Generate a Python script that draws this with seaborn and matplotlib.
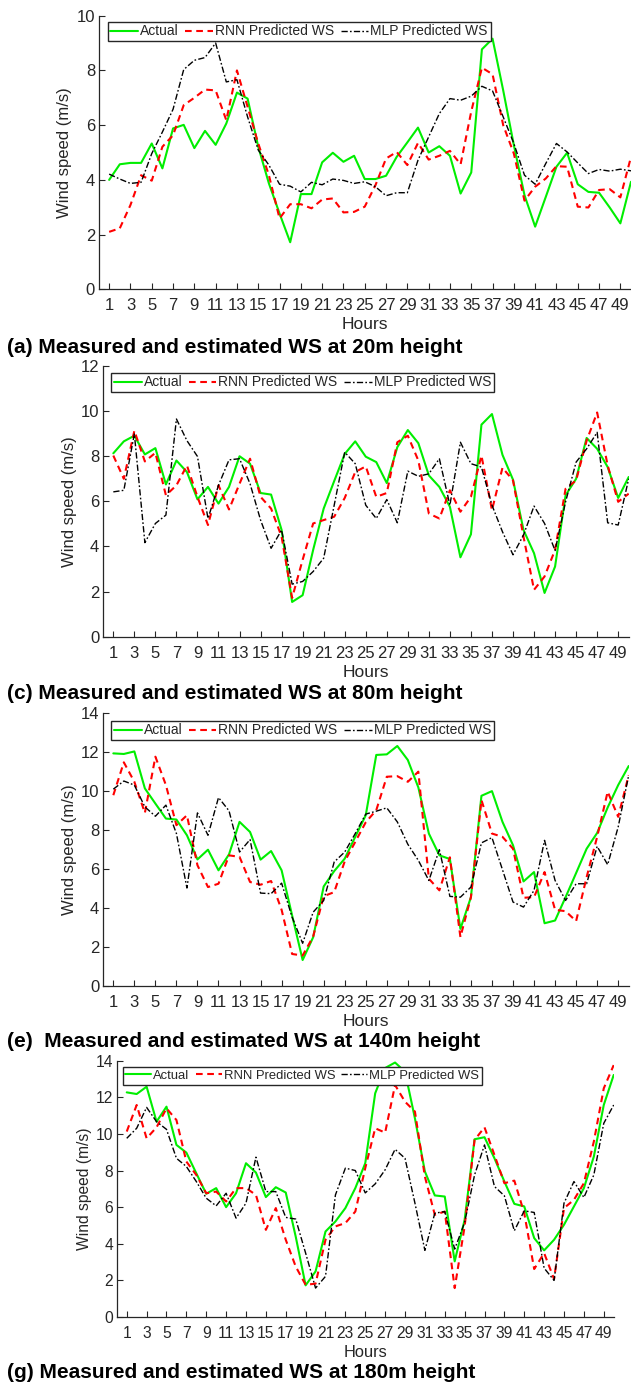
import matplotlib
matplotlib.use("Agg")
import matplotlib.pyplot as plt
import seaborn as sns

# ------------------------------------------
# Data (wind speed, m/s)
# ------------------------------------------
hours = list(range(1, 51))

actual_20 = [4.0, 4.57, 4.62, 4.62, 5.33, 4.42, 5.88, 6.01, 5.16, 5.79,
             5.28, 6.06, 7.19, 6.97, 5.21, 3.87, 2.77, 1.72, 3.48, 3.48,
             4.64, 4.99, 4.66, 4.88, 4.03, 4.03, 4.15, 4.84, 5.37, 5.91,
             5.0, 5.23, 4.88, 3.50, 4.27, 8.77, 9.16, 7.27, 5.27, 3.44,
             2.29, 3.38, 4.48, 4.99, 3.84, 3.56, 3.53, 2.99, 2.41, 3.93]
rnn_20 = [2.10, 2.23, 3.08, 4.17, 3.97, 5.21, 5.63, 6.73, 7.0, 7.3,
          7.27, 6.18, 8.0, 6.67, 5.33, 4.17, 2.59, 3.11, 3.11, 2.96,
          3.28, 3.32, 2.81, 2.83, 3.02, 3.80, 4.78, 5.02, 4.54, 5.35,
          4.74, 4.88, 5.06, 4.57, 6.5, 8.1, 7.86, 6.0, 4.96, 3.24,
          3.75, 4.05, 4.5, 4.48, 3.02, 2.99, 3.63, 3.66, 3.36, 4.84]
mlp_20 = [4.21, 4.03, 3.87, 3.91, 4.96, 5.75, 6.58, 8.03, 8.37, 8.47,
          9.0, 7.58, 7.66, 6.30, 5.09, 4.54, 3.84, 3.77, 3.56, 3.91,
          3.82, 4.03, 3.98, 3.87, 3.93, 3.75, 3.42, 3.53, 3.53, 4.72,
          5.57, 6.42, 6.97, 6.91, 7.06, 7.42, 7.25, 6.30, 5.33, 4.17,
          3.84, 4.6, 5.33, 5.02, 4.62, 4.23, 4.38, 4.32, 4.39, 4.33]

actual_80 = [8.13, 8.66, 8.91, 8.08, 8.36, 6.75, 7.81, 7.3, 6.09, 6.64,
             5.9, 6.64, 8.0, 7.67, 6.37, 6.30, 4.73, 1.54, 1.84, 3.85,
             5.68, 6.9, 8.1, 8.66, 7.98, 7.74, 6.81, 8.4, 9.16, 8.58,
             7.15, 6.64, 5.76, 3.52, 4.54, 9.4, 9.87, 8.06, 6.96, 4.73,
             3.7, 1.94, 3.11, 6.27, 7.0, 8.81, 8.33, 7.52, 6.15, 7.08]
rnn_80 = [8.03, 7.0, 9.13, 7.77, 8.15, 6.27, 6.71, 7.59, 6.2, 4.95,
          6.71, 5.64, 6.78, 7.89, 6.2, 5.68, 4.43, 1.72, 3.41, 5.02,
          5.17, 5.32, 6.15, 7.3, 7.55, 6.2, 6.37, 8.62, 8.91, 7.81,
          5.46, 5.24, 6.49, 5.54, 6.2, 8.03, 5.61, 7.49, 6.93, 4.43,
          2.08, 2.67, 3.85, 6.56, 6.93, 8.69, 9.94, 7.59, 5.98, 6.34]
mlp_80 = [6.42, 6.49, 8.99, 4.17, 5.02, 5.39, 9.65, 8.69, 7.99, 5.24,
          6.71, 7.84, 7.89, 6.78, 5.17, 3.92, 4.73, 2.33, 2.45, 2.89,
          3.48, 5.83, 8.18, 7.67, 5.83, 5.24, 6.08, 5.05, 7.34, 7.11,
          7.22, 7.89, 5.83, 8.62, 7.67, 7.52, 5.83, 4.65, 3.63, 4.51,
          5.79, 5.02, 3.82, 5.98, 7.74, 8.33, 9.06, 5.05, 4.95, 7.0]

actual_140 = [11.94, 11.91, 12.04, 10.14, 9.36, 8.59, 8.54, 7.73, 6.49, 6.99,
              5.93, 6.75, 8.42, 7.90, 6.48, 6.92, 5.93, 3.61, 1.32, 2.49,
              5.10, 5.89, 6.53, 7.65, 8.76, 11.86, 11.89, 12.32, 11.6, 10.19,
              7.82, 6.70, 6.51, 2.92, 4.55, 9.76, 10.0, 8.42, 7.22, 5.36,
              5.84, 3.21, 3.35, 4.55, 5.79, 7.04, 7.85, 9.16, 10.31, 11.29]
rnn_140 = [9.79, 11.48, 10.48, 8.88, 11.77, 10.31, 8.25, 8.76, 6.19, 5.07,
           5.24, 6.70, 6.62, 5.33, 5.19, 5.38, 3.90, 1.63, 1.55, 2.53,
           4.60, 4.81, 6.39, 7.39, 8.4, 9.02, 10.74, 10.77, 10.48, 11.0,
           5.5, 4.9, 6.6, 2.5, 4.55, 9.54, 7.82, 7.65, 7.04, 4.52,
           4.55, 5.84, 3.90, 3.83, 3.32, 5.58, 7.65, 9.97, 8.68, 10.82]
mlp_140 = [10.1, 10.52, 10.31, 9.19, 8.71, 9.28, 7.82, 5.02, 8.88, 7.73,
           9.67, 8.99, 6.87, 7.51, 4.76, 4.73, 5.27, 3.52, 2.18, 3.78,
           4.38, 6.36, 6.87, 7.82, 8.82, 8.97, 9.14, 8.42, 7.27, 6.44,
           5.41, 6.99, 4.59, 4.55, 5.07, 7.34, 7.61, 5.96, 4.30, 4.04,
           4.90, 7.47, 5.41, 4.38, 5.24, 5.24, 7.16, 6.22, 8.16, 10.82]

actual_180 = [12.27, 12.18, 12.58, 10.67, 11.49, 9.40, 8.98, 7.85, 6.73, 7.04,
              6.0, 6.76, 8.40, 7.89, 6.55, 7.09, 6.80, 4.40, 1.73, 2.49,
              4.67, 5.22, 5.95, 7.04, 8.40, 12.22, 13.6, 13.9, 13.4, 10.85,
              7.95, 6.64, 6.58, 3.04, 5.31, 9.71, 9.82, 8.67, 7.40, 6.18,
              6.04, 4.31, 3.64, 4.22, 5.04, 6.04, 7.04, 8.76, 11.58, 13.22]
rnn_180 = [10.13, 11.58, 9.76, 10.36, 11.4, 10.76, 8.49, 7.76, 6.76, 6.85,
           6.31, 7.04, 7.04, 6.67, 4.76, 5.95, 4.22, 2.76, 1.76, 1.82,
           4.22, 4.95, 5.13, 5.76, 8.13, 10.31, 10.07, 12.67, 11.76, 11.22,
           7.67, 5.58, 5.76, 1.58, 4.95, 9.67, 10.36, 8.85, 7.31, 7.45,
           5.67, 2.62, 3.49, 2.07, 5.95, 6.40, 7.31, 9.58, 12.49, 13.76]
mlp_180 = [9.76, 10.31, 11.45, 10.67, 10.25, 8.67, 8.22, 7.40, 6.49, 6.07,
           6.76, 5.4, 6.22, 8.73, 6.85, 6.85, 5.44, 5.35, 3.49, 1.58,
           2.22, 6.67, 8.13, 8.0, 6.78, 7.27, 8.04, 9.16, 8.67, 6.22,
           3.64, 5.67, 5.76, 3.71, 5.16, 7.76, 9.4, 7.13, 6.62, 4.71,
           5.8, 5.71, 2.67, 2.0, 6.22, 7.40, 6.53, 7.76, 10.58, 11.58]

titles = ["(a) Measured and estimated WS at 20m height",
          "(c) Measured and estimated WS at 80m height",
          "(e)  Measured and estimated WS at 140m height",
          "(g) Measured and estimated WS at 180m height"]
series_labels = ["Actual", "RNN Predicted WS", "MLP Predicted WS"]

# ------------------------------------------
# Style
# ------------------------------------------
sns.set_style("ticks")
plt.rcParams["font.family"] = ["Liberation Sans", "DejaVu Sans"]

W, H = 631, 1383
fig = plt.figure(figsize=(W / 100, H / 100), dpi=100)

ink = "#262626"

# panel boxes in pixels: left, right, top, bottom (x=0..50, y=0..ymax)
boxes = [(98.5, 631.0, 15.7, 289.3),
         (102.8, 628.7, 366.0, 636.7),
         (102.8, 628.7, 713.3, 985.7),
         (116.8, 613.7, 1060.7, 1317.0)]
ymax = [10, 12, 14, 14]
title_base = [353.3, 699.0, 1047.0, 1378.0]
scale = [1.0, 1.0, 1.0, 0.94]
legend_px = [(107.7, 21.7), (111.0, 372.7), (111.0, 720.7), (122.7, 1067.3)]

data = [(actual_20, rnn_20, mlp_20),
        (actual_80, rnn_80, mlp_80),
        (actual_140, rnn_140, mlp_140),
        (actual_180, rnn_180, mlp_180)]

for i, (act, rnn, mlp) in enumerate(data):
    l, r, t, b = boxes[i]
    s = scale[i]
    ax = fig.add_axes([l / W, (H - b) / H, (r - l) / W, (b - t) / H])

    sns.lineplot(x=hours, y=act, ax=ax, color="#00ee00", linewidth=1.5,
                 label=series_labels[0], errorbar=None)
    sns.lineplot(x=hours, y=rnn, ax=ax, color="#ff0000", linewidth=1.5,
                 dashes=(3.2, 2.2), label=series_labels[1], errorbar=None)
    sns.lineplot(x=hours, y=mlp, ax=ax, color="black", linewidth=1.0,
                 dashes=(4.5, 1.6, 1.2, 1.6), label=series_labels[2],
                 errorbar=None)

    ax.set_xlim(0, 50)
    ax.set_ylim(0, ymax[i])
    ax.set_xticks(hours[::2])
    ax.set_xticklabels([str(h) for h in hours[::2]])
    ax.set_yticks(range(0, ymax[i] + 1, 2))

    sns.despine(ax=ax)
    for side in ["left", "bottom"]:
        ax.spines[side].set_color(ink)
        ax.spines[side].set_linewidth(0.9)
    ax.tick_params(axis="both", direction="in", length=4.3, width=0.8,
                   colors=ink, labelsize=12 * s)
    ax.tick_params(axis="x", pad=6.5)
    ax.tick_params(axis="y", pad=2.5)

    ax.set_xlabel("Hours", fontsize=12.5 * s, color=ink, labelpad=3)
    ax.set_ylabel("Wind speed (m/s)", fontsize=12 * s, color=ink, labelpad=3)

    lx, ly = legend_px[i]
    leg = ax.legend(loc="upper left",
                    bbox_to_anchor=((lx - l) / (r - l), 1 - (ly - t) / (b - t)),
                    borderaxespad=0, ncol=3, frameon=True, fancybox=False,
                    framealpha=1, edgecolor=ink, fontsize=10 * s,
                    handlelength=2.0, handletextpad=0.15, columnspacing=0.45,
                    borderpad=0.2)
    leg.get_frame().set_linewidth(1.0)

    fig.text(7.2 / W, 1 - title_base[i] / H, titles[i], fontsize=15,
             fontweight="bold", ha="left", va="baseline", color="black")

fig.savefig("out.png", dpi=100)
